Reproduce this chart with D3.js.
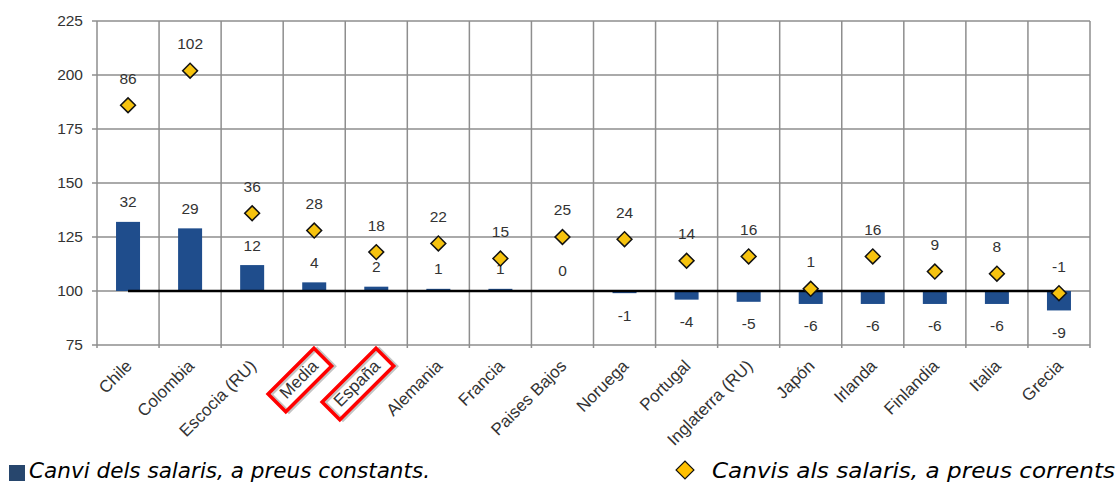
<!DOCTYPE html>
<html><head><meta charset="utf-8">
<script src="https://cdn.jsdelivr.net/npm/d3@7"></script>
<style>
body{margin:0;background:#fff;}
svg{display:block;}
.lib{font-family:'Liberation Sans', Arial, sans-serif;}
.leg{font-family:'DejaVu Sans', Verdana, sans-serif;font-style:italic;}
</style></head>
<body>
<svg id="chart" width="1119" height="484"></svg>
<script>
const categories = ["Chile","Colombia","Escocia (RU)","Media","España","Alemania","Francia","Paises Bajos","Noruega","Portugal","Inglaterra (RU)","Japón","Irlanda","Finlandia","Italia","Grecia"];
const constantChange = [32,29,12,4,2,1,1,0,-1,-4,-5,-6,-6,-6,-6,-9];
const currentChange = [86,102,36,28,18,22,15,25,24,14,16,1,16,9,8,-1];
const yTicks = [75,100,125,150,175,200,225];
const highlighted = ["Media","España"];
const baseIndex = 100;
const legendLabels = ["Canvi dels salaris, a preus constants.","Canvis als salaris, a preus corrents"];

const svg = d3.select("#chart");
const L = 97, R = 1090, T = 21, B = 345;
const x = d3.scaleBand().domain(categories).range([L, R]).padding(0);
const y = d3.scaleLinear().domain([75, 225]).range([B, T]);
const barW = 24;
const gridColor = "#8e8e8e";
const barColor = "#1f4d8c";
const diaColor = "#f6c30f";
const textColor = "#333";

svg.append("g").selectAll("line").data(yTicks).join("line")
  .attr("x1", L - 5).attr("x2", R).attr("y1", d => y(d)).attr("y2", d => y(d))
  .attr("stroke", gridColor).attr("stroke-width", 1.5);
const edges = categories.map(c => x(c)).concat([R]);
svg.append("g").selectAll("line").data(edges).join("line")
  .attr("x1", d => d).attr("x2", d => d).attr("y1", T).attr("y2", B + 3)
  .attr("stroke", gridColor).attr("stroke-width", 1.5);

const yAxis = d3.axisLeft(y).tickValues(yTicks).tickSize(0).tickPadding(14);
const ga = svg.append("g").attr("transform", `translate(${L},0)`).call(yAxis);
ga.select(".domain").remove();
ga.attr("font-family", null).attr("font-size", null);
ga.selectAll("text").attr("class", "lib").style("font-size", "15.5px").attr("fill", textColor);

const data = categories.map((c, i) => ({c, k: constantChange[i], n: currentChange[i]}));
svg.append("g").selectAll("rect").data(data).join("rect")
  .attr("x", d => x(d.c) + x.bandwidth()/2 - barW/2)
  .attr("width", barW)
  .attr("y", d => y(Math.max(baseIndex, baseIndex + d.k)))
  .attr("height", d => Math.abs(y(baseIndex + d.k) - y(baseIndex)))
  .attr("fill", barColor);

const line = d3.line().x(d => x(d.c) + x.bandwidth()/2).y(() => y(baseIndex));
svg.append("path").datum(data).attr("d", line)
  .attr("stroke", "#000").attr("stroke-width", 2.5).attr("fill", "none");

svg.append("g").selectAll("text").data(data).join("text")
  .attr("class", "lib")
  .attr("x", d => x(d.c) + x.bandwidth()/2)
  .attr("y", d => d.k >= 0 ? y(baseIndex + d.k) - 20 : y(baseIndex + d.k) + 22)
  .attr("dy", "0.35em").attr("text-anchor", "middle")
  .style("font-size", "15.5px")
  .attr("fill", textColor).text(d => d.k);

const dsym = d3.symbol().type(d3.symbolSquare).size(110);
svg.append("g").selectAll("path").data(data).join("path")
  .attr("d", dsym)
  .attr("transform", d => `translate(${x(d.c) + x.bandwidth()/2},${y(baseIndex + d.n)}) rotate(45)`)
  .attr("fill", diaColor).attr("stroke", "#111").attr("stroke-width", 1.5);

svg.append("g").selectAll("text").data(data).join("text")
  .attr("class", "lib")
  .attr("x", d => x(d.c) + x.bandwidth()/2)
  .attr("y", d => y(baseIndex + d.n) - 27)
  .attr("dy", "0.35em").attr("text-anchor", "middle")
  .style("font-size", "15.5px")
  .attr("fill", textColor).text(d => d.n);

const xl = svg.append("g").selectAll("g").data(categories).join("g")
  .attr("transform", c => `translate(${x(c) + x.bandwidth()/2 + 5},${B + 22}) rotate(-45)`);
xl.append("text").attr("class", "lib").attr("text-anchor", "end")
  .style("font-size", "17px")
  .attr("fill", textColor).text(c => c);
xl.filter(c => highlighted.includes(c)).each(function() {
  const g = d3.select(this);
  const bb = g.select("text").node().getBBox();
  const padX = 9, h = 25;
  const cy = bb.y + bb.height/2 + 1;
  g.insert("rect", "text").attr("x", bb.x - padX + 2).attr("y", cy - h/2 + 2.5)
    .attr("width", bb.width + 2*padX).attr("height", h)
    .attr("fill", "none").attr("stroke", "#c4c4c4").attr("stroke-width", 3);
  g.insert("rect", "text").attr("x", bb.x - padX).attr("y", cy - h/2)
    .attr("width", bb.width + 2*padX).attr("height", h)
    .attr("fill", "none").attr("stroke", "#f00").attr("stroke-width", 3.5);
});

svg.append("rect").attr("x", 9).attr("y", 465).attr("width", 16).attr("height", 16).attr("fill", "#27466d");
svg.append("text").attr("class", "leg").attr("x", 29).attr("y", 478).text(legendLabels[0])
  .style("font-size", "21px").attr("textLength", 401).attr("lengthAdjust", "spacingAndGlyphs").attr("fill", "#000");
svg.append("path").attr("d", d3.symbol().type(d3.symbolSquare).size(160))
  .attr("transform", "translate(685,470) rotate(45)")
  .attr("fill", "#ffc000").attr("stroke", "#111").attr("stroke-width", 1.2);
svg.append("text").attr("class", "leg").attr("x", 712).attr("y", 478).text(legendLabels[1])
  .style("font-size", "21.5px").attr("textLength", 403).attr("lengthAdjust", "spacingAndGlyphs").attr("fill", "#000");
</script>
</body></html>
